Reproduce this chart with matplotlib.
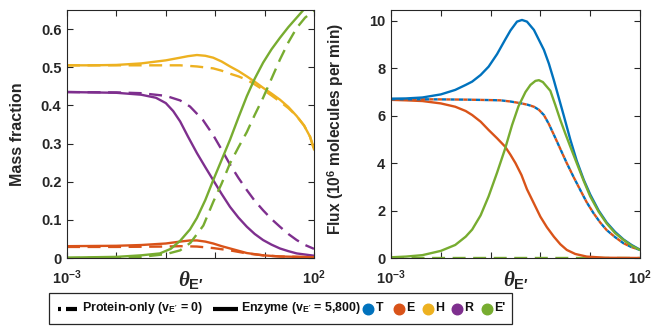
import numpy as np
import matplotlib
matplotlib.use("Agg")
import matplotlib.pyplot as plt
from matplotlib.lines import Line2D
from matplotlib.patches import Rectangle

plt.rcParams['font.family'] = ['Liberation Sans', 'DejaVu Sans']
plt.rcParams['font.weight'] = 'bold'
plt.rcParams['mathtext.fontset'] = 'custom'
plt.rcParams['mathtext.rm'] = 'Liberation Sans:bold'
plt.rcParams['mathtext.bf'] = 'Liberation Sans:bold'
plt.rcParams['mathtext.it'] = 'Liberation Serif:italic'

C_T = '#0072BD'
C_E = '#D95319'
C_H = '#EDB120'
C_R = '#7E2F8E'
C_EP = '#77AC30'

# ---------------- Mass fraction (left) : x values are log10(theta_E')
h_enz_x = [-3, -2.5, -2, -1.5, -1, -0.71, -0.55, -0.37, -0.2, -0.04, 0.13, 0.3, 0.47, 0.64, 0.8, 0.97, 1.14, 1.31, 1.48, 1.65, 1.8, 1.92, 2.0]
h_enz_y = [0.505, 0.505, 0.506, 0.51, 0.518, 0.525, 0.529, 0.532, 0.53, 0.525, 0.515, 0.502, 0.49, 0.476, 0.462, 0.446, 0.431, 0.415, 0.396, 0.372, 0.347, 0.318, 0.285]
h_pro_x = [-3, -2, -1, -0.71, -0.37, -0.04, 0.13, 0.3, 0.47, 0.64, 0.8, 0.97, 1.14, 1.31, 1.48, 1.65, 1.8, 1.92, 2.0]
h_pro_y = [0.505, 0.505, 0.505, 0.505, 0.502, 0.497, 0.491, 0.483, 0.476, 0.467, 0.455, 0.441, 0.426, 0.41, 0.393, 0.372, 0.347, 0.318, 0.285]

r_enz_x = [-3, -2.5, -2, -1.5, -1.2, -1, -0.85, -0.71, -0.55, -0.37, -0.2, -0.04, 0.13, 0.3, 0.47, 0.64, 0.8, 0.97, 1.14, 1.31, 1.48, 1.65, 2.0]
r_enz_y = [0.435, 0.434, 0.433, 0.428, 0.42, 0.406, 0.385, 0.358, 0.318, 0.275, 0.238, 0.204, 0.168, 0.134, 0.106, 0.082, 0.063, 0.047, 0.035, 0.025, 0.018, 0.012, 0.006]
r_pro_x = [-3, -2, -1.5, -1, -0.71, -0.51, -0.25, -0.04, 0.13, 0.3, 0.47, 0.64, 0.8, 0.97, 1.14, 1.31, 1.48, 1.65, 1.82, 2.0]
r_pro_y = [0.435, 0.434, 0.432, 0.425, 0.413, 0.397, 0.362, 0.322, 0.284, 0.245, 0.21, 0.178, 0.15, 0.125, 0.102, 0.082, 0.063, 0.047, 0.034, 0.024]

ep_enz_x = [-3, -2.5, -2, -1.5, -1.12, -0.9, -0.71, -0.51, -0.37, -0.2, -0.04, 0.13, 0.3, 0.47, 0.64, 0.8, 0.97, 1.14, 1.31, 1.48, 1.65, 1.8, 2.0]
ep_enz_y = [0.001, 0.002, 0.003, 0.007, 0.012, 0.024, 0.045, 0.075, 0.105, 0.152, 0.204, 0.257, 0.31, 0.368, 0.424, 0.47, 0.512, 0.547, 0.577, 0.605, 0.63, 0.652, 0.68]
ep_pro_x = [-3, -2, -1.5, -1, -0.71, -0.5, -0.24, -0.04, 0.13, 0.3, 0.47, 0.64, 0.8, 0.97, 1.14, 1.31, 1.48, 1.65, 1.82, 2.0]
ep_pro_y = [0.0, 0.001, 0.003, 0.01, 0.02, 0.04, 0.085, 0.147, 0.195, 0.248, 0.29, 0.33, 0.375, 0.42, 0.47, 0.52, 0.565, 0.603, 0.63, 0.648]

e_enz_x = [-3, -2, -1.5, -1, -0.71, -0.51, -0.37, -0.2, -0.04, 0.13, 0.3, 0.47, 0.64, 0.97, 1.31, 2.0]
e_enz_y = [0.031, 0.032, 0.034, 0.038, 0.043, 0.046, 0.046, 0.043, 0.038, 0.031, 0.025, 0.019, 0.013, 0.007, 0.004, 0.002]
e_pro_x = [-3, -2, -1, -0.71, -0.37, -0.04, 0.3, 0.64, 0.97, 1.31, 2.0]
e_pro_y = [0.029, 0.029, 0.03, 0.031, 0.03, 0.026, 0.02, 0.012, 0.007, 0.004, 0.002]

# ---------------- Flux (right)
t_enz_x = [-3, -2.7, -2.37, -2, -1.71, -1.5, -1.37, -1.2, -1.04, -0.87, -0.71, -0.6, -0.47, -0.37, -0.27, -0.13, 0.07, 0.17, 0.27, 0.37, 0.47, 0.6, 0.73, 0.87, 1.0, 1.17, 1.33, 1.5, 1.67, 1.83, 2.0]
t_enz_y = [6.72, 6.73, 6.77, 6.9, 7.09, 7.3, 7.44, 7.72, 8.07, 8.6, 9.2, 9.6, 9.97, 10.04, 9.97, 9.62, 8.78, 8.2, 7.5, 6.75, 6.0, 5.0, 4.1, 3.3, 2.68, 2.0, 1.5, 1.1, 0.78, 0.55, 0.35]
ep_fenz_x = [-3, -2.7, -2.37, -2, -1.71, -1.5, -1.37, -1.2, -1.04, -0.87, -0.71, -0.57, -0.44, -0.3, -0.2, -0.1, -0.03, 0.05, 0.2, 0.3, 0.4, 0.5, 0.6, 0.73, 0.87, 1.0, 1.17, 1.33, 1.5, 1.67, 1.83, 2.0]
ep_fenz_y = [0.03, 0.06, 0.12, 0.3, 0.55, 0.9, 1.2, 1.8, 2.6, 3.6, 4.6, 5.6, 6.4, 7.0, 7.3, 7.47, 7.5, 7.42, 7.05, 6.45, 5.82, 5.25, 4.7, 4.0, 3.25, 2.6, 1.95, 1.46, 1.05, 0.76, 0.52, 0.34]
te_pro_x = [-3, -2, -1.5, -1, -0.8, -0.6, -0.4, -0.25, -0.13, -0.03, 0.07, 0.17, 0.27, 0.4, 0.53, 0.67, 0.8, 0.93, 1.07, 1.2, 1.33, 1.5, 1.67, 1.83, 2.0]
te_pro_y = [6.7, 6.69, 6.68, 6.66, 6.65, 6.6, 6.53, 6.46, 6.38, 6.25, 6.03, 5.65, 5.2, 4.6, 4.0, 3.4, 2.87, 2.35, 1.88, 1.5, 1.18, 0.88, 0.62, 0.46, 0.34]
e_fenz_x = [-3, -2.7, -2.37, -2, -1.71, -1.5, -1.37, -1.2, -1.04, -0.87, -0.71, -0.6, -0.5, -0.38, -0.27, -0.13, 0.0, 0.13, 0.27, 0.4, 0.53, 0.7, 0.93, 1.3, 2.0]
e_fenz_y = [6.67, 6.65, 6.62, 6.52, 6.38, 6.2, 6.03, 5.75, 5.4, 5.05, 4.7, 4.35, 4.0, 3.5, 2.9, 2.3, 1.74, 1.3, 0.9, 0.58, 0.34, 0.17, 0.06, 0.01, 0.0]
ep_fpro_x = [-3, 2.0]
ep_fpro_y = [0.0, 0.0]

W, H = 654, 328
fig = plt.figure(figsize=(W / 100, H / 100), dpi=100)

def px(x0, y0, x1, y1):
    return [x0 / W, 1 - y1 / H, (x1 - x0) / W, (y1 - y0) / H]

ax1 = fig.add_axes(px(67, 10, 314, 258))
ax2 = fig.add_axes(px(391, 10, 640, 258))

lw = 1.7
dash = (0, (5.5, 3.2))

def p(ax, xs, ys, c, ls='-'):
    xs = np.power(10.0, np.array(xs, dtype=float))
    ax.plot(xs, ys, color=c, lw=lw, linestyle=(dash if ls == '--' else ls),
            solid_joinstyle='round')

p(ax1, h_pro_x, h_pro_y, C_H, '--')
p(ax1, h_enz_x, h_enz_y, C_H)
p(ax1, r_pro_x, r_pro_y, C_R, '--')
p(ax1, r_enz_x, r_enz_y, C_R)
p(ax1, e_pro_x, e_pro_y, C_E, '--')
p(ax1, e_enz_x, e_enz_y, C_E)
p(ax1, ep_pro_x, ep_pro_y, C_EP, '--')
p(ax1, ep_enz_x, ep_enz_y, C_EP)

p(ax2, ep_fpro_x, ep_fpro_y, C_EP, '--')
p(ax2, e_fenz_x, e_fenz_y, C_E)
xs = np.power(10.0, np.array(te_pro_x))
ax2.plot(xs, te_pro_y, color=C_T, lw=lw, linestyle=(0, (1.8, 1.8)))
ax2.plot(xs, te_pro_y, color=C_E, lw=lw, linestyle=(1.8, (1.8, 1.8)))
p(ax2, t_enz_x, t_enz_y, C_T)
p(ax2, ep_fenz_x, ep_fenz_y, C_EP)

x_ticks = [1e-3, 1e-2, 1e-1, 1e0, 1e1, 1e2]
x_ticklabels = [r'$\mathbf{10^{-3}}$', '', '', '', '', r'$\mathbf{10^{2}}$']
ax1_yticks = [0, 0.1, 0.2, 0.3, 0.4, 0.5, 0.6]
ax1_ylabels = ['0', '0.1', '0.2', '0.3', '0.4', '0.5', '0.6']
ax2_yticks = [0, 2, 4, 6, 8, 10]
ax2_ylabels = ['0', '2', '4', '6', '8', '10']

for ax in (ax1, ax2):
    ax.set_xscale('log')
    ax.set_xlim(1e-3, 1e2)
    ax.set_xticks(x_ticks)
    ax.set_xticklabels(x_ticklabels)
    ax.xaxis.set_minor_locator(matplotlib.ticker.NullLocator())
    ax.tick_params(direction='in', top=True, right=True, length=4, width=0.8,
                   labelsize=10.5, colors='#262626', pad=4)
    ax.tick_params(axis='x', pad=7.5)
    for s in ax.spines.values():
        s.set_color('#262626')
        s.set_linewidth(0.8)
    ax.text(0.5, -0.045, r'$\theta_{\mathbf{E\prime}}$', transform=ax.transAxes,
            ha='center', va='top', fontsize=15, color='#262626')

ax1.set_ylim(0, 0.65)
ax1.set_yticks(ax1_yticks)
ax1.set_yticklabels(ax1_ylabels, fontweight='bold')
ax1.set_ylabel('Mass fraction', fontsize=11.5, fontweight='bold', color='#262626')
ax1.yaxis.set_label_coords(-0.17, 0.5)

ax2.set_ylim(0, 10.46)
ax2.set_yticks(ax2_yticks)
ax2.set_yticklabels(ax2_ylabels, fontweight='bold')
ax2.set_ylabel(r'Flux (10$^{\mathbf{6}}$ molecules per min)', fontsize=11.2,
               fontweight='bold', color='#262626')
ax2.yaxis.set_label_coords(-0.181, 0.52)

# ---------------- legend (manual, figure pixel coords)
def fx(x):
    return x / W

def fy(y):
    return 1 - y / H

LFAM = ['Liberation Sans Narrow', 'Liberation Sans', 'DejaVu Sans']

fig.patches.append(Rectangle((fx(49), fy(324)), fx(512) - fx(49), fy(293) - fy(324),
                             transform=fig.transFigure, fill=False, ec='#262626', lw=0.9))
ly = fy(308.5)
ty = fy(308)
fig.lines.append(Line2D([fx(58), fx(61)], [ly, ly], color='k', lw=3, transform=fig.transFigure, solid_capstyle='butt'))
fig.lines.append(Line2D([fx(66), fx(77)], [ly, ly], color='k', lw=3, transform=fig.transFigure, solid_capstyle='butt'))
t_pro = fig.text(fx(82), ty, r"Protein-only (v$_{\mathbf{E'}}$ = 0)", fontsize=10, fontweight='bold',
                 family=LFAM, ha='left', va='center', color='#111111')
fig.lines.append(Line2D([fx(213), fx(238)], [ly, ly], color='k', lw=3, transform=fig.transFigure, solid_capstyle='butt'))
t_enz = fig.text(fx(241), ty, r"Enzyme (v$_{\mathbf{E'}}$ = 5,800)", fontsize=10, fontweight='bold',
                 family=LFAM, ha='left', va='center', color='#111111')

legend_labels = ['T', 'E', 'H', 'R', "E'"]
legend_colors = [C_T, C_E, C_H, C_R, C_EP]
legend_mx = [368, 399, 428, 457, 487]
ltexts = [t_pro, t_enz]
for lab, c, mx in zip(legend_labels, legend_colors, legend_mx):
    fig.lines.append(Line2D([fx(mx)], [ly], marker='o', ms=7.6, color=c, mec=c, ls='',
                            transform=fig.transFigure))
    ltexts.append(fig.text(fx(mx + 7.5), ty, lab, fontsize=10, fontweight='bold', ha='left',
                           family=LFAM, va='center', color='#111111'))

fig.canvas.draw()
r = fig.canvas.get_renderer()
wpro = t_pro.get_window_extent(r).width
fs = 10 * 121.0 / wpro
for t in ltexts:
    t.set_fontsize(fs)

fig.savefig('out.png', dpi=100)
